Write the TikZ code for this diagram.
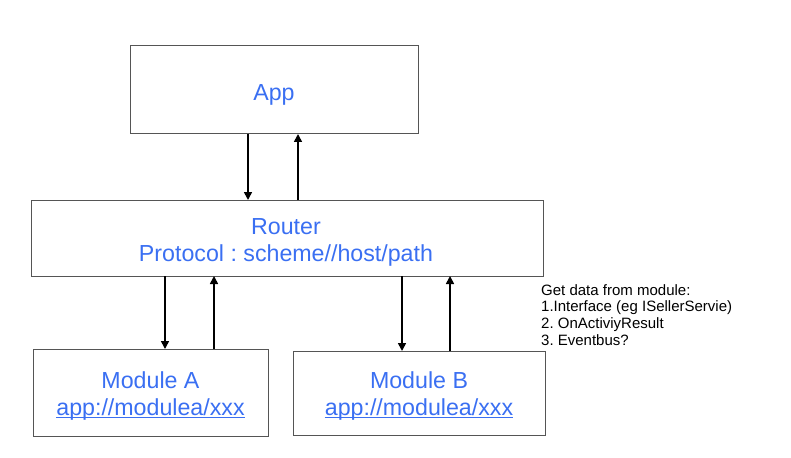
\documentclass[tikz,border=0pt]{standalone}
\usepackage{fontspec}
\setmainfont{Liberation Sans}
\usetikzlibrary{arrows.meta}
\definecolor{txtblue}{HTML}{3A6FF2}
\definecolor{boxgray}{HTML}{555555}
\tikzset{
  box/.style={draw=boxgray, line width=1pt, rectangle, outer sep=0pt, inner sep=0pt},
  arr/.style={line width=1.6pt, -{Triangle[length=8pt,width=8pt]}},
  big/.style={text=txtblue, inner sep=0pt, anchor=base, font=\frenchspacing\fontsize{23.2}{26}\selectfont},
  side/.style={inner sep=0pt, anchor=base west, font=\frenchspacing\fontsize{15}{17}\selectfont},
  uline/.style={draw=txtblue, line width=0.9pt}
}
\begin{document}
\begin{tikzpicture}[x=1pt,y=-1pt]
\useasboundingbox (0,0) rectangle (791,457);
% boxes
\node[box, minimum width=288pt, minimum height=88pt] (app) at (274,90) {};
\node[box, minimum width=512pt, minimum height=76pt] (router) at (287,238) {};
\node[box, minimum width=235pt, minimum height=87pt] (moda) at (150.5,392.5) {};
\node[box, minimum width=252pt, minimum height=84pt] (modb) at (419,393) {};
% texts
\node[big] (apptxt) at (274,101) {App};
\node[big] (routertxt) at (286,234) {Router};
\node[big] (prototxt) at (286,261.5) {Protocol : scheme//host/path};
\node[big] (modatxt) at (150.5,388) {Module A};
\node[big] (urla) at (150.5,415) {app://modulea/xxx};
\node[big] (modbtxt) at (419,388) {Module B};
\node[big] (urlb) at (419,415) {app://modulea/xxx};
\draw[uline] ([yshift=-2pt]urla.base west) -- ([yshift=-2pt]urla.base east);
\draw[uline] ([yshift=-2pt]urlb.base west) -- ([yshift=-2pt]urlb.base east);
% side note
\node[side] (n1) at (541,295) {Get data from module:};
\node[side] (n2) at (541,311.7) {1.Interface (eg ISellerServie)};
\node[side] (n3) at (541,328.4) {2. OnActiviyResult};
\node[side] (n4) at (541,345.1) {3. Eventbus?};
% arrows
\draw[arr] (app.south -| 248,0) -- (router.north -| 248,0);
\draw[arr] (router.north -| 298,0) -- (app.south -| 298,0);
\draw[arr] (router.south -| 165,0) -- (moda.north -| 165,0);
\draw[arr] (moda.north -| 214,0) -- (router.south -| 214,0);
\draw[arr] (router.south -| 402,0) -- (modb.north -| 402,0);
\draw[arr] (modb.north -| 450,0) -- (router.south -| 450,0);
\end{tikzpicture}
\end{document}
